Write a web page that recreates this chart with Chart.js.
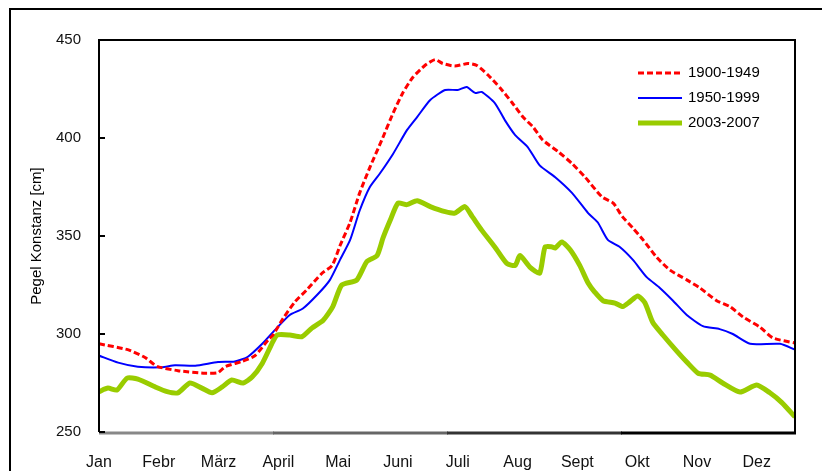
<!DOCTYPE html>
<html>
<head>
<meta charset="utf-8">
<script src="https://cdn.jsdelivr.net/npm/chart.js@4"></script>
<style>
  body { margin: 0; background: #fff; }
  canvas { display: block; }
</style>
</head>
<body>
<canvas id="pegel" width="822" height="471"></canvas>
<script>
// Pegel Konstanz - mittlerer Jahresgang (x in Monaten ab 1. Jan)

const monate = ['Jan', 'Febr', 'März', 'April', 'Mai', 'Juni', 'Juli', 'Aug', 'Sept', 'Okt', 'Nov', 'Dez'];
const yTicks = [250, 300, 350, 400, 450];
const serien = ['1900-1949', '1950-1999', '2003-2007'];

const t1900 = [0, 0.48, 0.77, 0.97, 1.32, 1.77, 1.99, 2.11, 2.39, 2.61, 2.83, 2.91, 3.08, 3.28, 3.49, 3.73, 3.90, 4.03, 4.20, 4.36, 4.53, 4.73, 4.92, 5.08, 5.25, 5.45, 5.62, 5.75, 5.95, 6.17, 6.32, 6.51, 6.71, 6.91, 7.09, 7.26, 7.42, 7.68, 7.91, 8.13, 8.41, 8.60, 8.75, 8.93, 9.10, 9.33, 9.55, 9.83, 10.05, 10.33, 10.55, 10.77, 11.05, 11.27, 11.64];
const v1900 = [295, 292, 288, 283.5, 281.3, 280, 280.3, 283.3, 286, 289, 297, 299.5, 308, 316.5, 323, 331, 335, 345, 357, 372, 385, 399, 412.8, 423, 431, 437, 440, 438, 436.7, 438, 437, 432, 425.5, 418, 410.7, 405.6, 399, 393, 387, 380, 370, 366.8, 360, 354, 348, 339, 332.6, 327.6, 323.5, 317, 314, 308.7, 303.6, 298, 295.4];

const t1950 = [0, 0.32, 0.65, 1.05, 1.27, 1.61, 1.99, 2.27, 2.49, 2.73, 2.94, 3.19, 3.41, 3.65, 3.86, 4.03, 4.20, 4.36, 4.53, 4.70, 4.92, 5.15, 5.32, 5.54, 5.79, 6.00, 6.15, 6.29, 6.40, 6.62, 6.79, 6.96, 7.17, 7.37, 7.63, 7.91, 8.18, 8.34, 8.51, 8.71, 8.93, 9.16, 9.38, 9.60, 9.83, 10.10, 10.38, 10.60, 10.89, 11.39, 11.64];
const v1950 = [289, 285.4, 283.3, 283, 284, 283.8, 285.7, 286, 288.4, 295, 302, 309.7, 313, 320, 327.5, 337.8, 348, 363, 375, 382, 392, 404, 410.7, 419.4, 424.5, 424.5, 426, 423, 423.5, 417.8, 409, 401.5, 395.4, 386, 380, 372, 361.7, 357, 348, 344.4, 337.8, 329, 323.5, 317, 309.7, 304, 302.5, 300, 295, 295, 292];

const t2003 = [0, 0.15, 0.30, 0.47, 0.65, 0.94, 1.14, 1.32, 1.52, 1.72, 1.89, 2.06, 2.22, 2.41, 2.56, 2.73, 2.89, 2.98, 3.19, 3.39, 3.56, 3.75, 3.91, 4.06, 4.31, 4.48, 4.65, 4.75, 4.87, 5.00, 5.15, 5.32, 5.54, 5.79, 5.95, 6.12, 6.24, 6.40, 6.62, 6.82, 6.96, 7.04, 7.21, 7.37, 7.46, 7.58, 7.63, 7.74, 7.88, 8.04, 8.18, 8.29, 8.43, 8.63, 8.76, 8.88, 9.01, 9.13, 9.26, 9.43, 9.67, 9.83, 10.02, 10.22, 10.43, 10.72, 11.00, 11.22, 11.42, 11.64];
const v2003 = [270.6, 272.4, 271.4, 277.5, 277, 273, 270.6, 270, 275, 272.4, 270, 273, 276.5, 275, 278, 285, 295, 299.5, 299.5, 298.6, 303, 307, 314, 325, 327.5, 337, 340, 349, 358, 366.8, 366, 368, 365, 362.4, 361.7, 365, 360, 353, 344.4, 336, 335, 340, 334, 331, 344.4, 344.4, 343.9, 347, 343, 335, 326, 321.4, 317, 315.8, 314, 316.5, 319.4, 316, 306, 299.5, 291, 285.7, 280, 279, 275, 270.4, 274, 270, 265, 257.7];

const punkte = (t, v) => t.map((x, i) => ({ x: x, y: v[i] }));
const FONT = "'Liberation Sans', Arial, sans-serif";

// Rahmen, Achsenlinien und kleine Striche nach innen
const rahmenPlugin = {
    id: 'rahmen',
    afterDraw: function (chart) {
        const ctx = chart.ctx;
        const a = chart.chartArea;
        ctx.save();
        ctx.strokeStyle = '#000';
        ctx.lineWidth = 2;
        ctx.beginPath();
        ctx.moveTo(10, 471);
        ctx.lineTo(10, 9);
        ctx.lineTo(822, 9);
        ctx.stroke();

        ctx.beginPath();
        ctx.moveTo(a.left, a.bottom);
        ctx.lineTo(a.left, a.top);
        ctx.lineTo(a.right, a.top);
        ctx.lineTo(a.right, a.bottom + 1);
        ctx.stroke();

        // untere Achse in Stufen von grau nach schwarz
        const stufen = ['#888', '#666', '#333', '#000'];
        const w = (a.right - a.left) / stufen.length;
        ctx.lineWidth = 3;
        stufen.forEach((c, i) => {
            ctx.strokeStyle = c;
            ctx.beginPath();
            ctx.moveTo(a.left + i * w, a.bottom + 1);
            ctx.lineTo(a.left + (i + 1) * w + 1, a.bottom + 1);
            ctx.stroke();
        });

        const y = chart.scales.y;
        ctx.strokeStyle = '#000';
        ctx.lineWidth = 2;
        yTicks.forEach(v => {
            const py = y.getPixelForValue(v);
            ctx.beginPath();
            ctx.moveTo(a.left, py);
            ctx.lineTo(a.left + 6, py);
            ctx.stroke();
        });
        ctx.restore();
    }
};

const legendePlugin = {
    id: 'legende',
    afterDatasetsDraw: function (chart) {
        const ctx = chart.ctx;
        ctx.save();
        ctx.font = '15px ' + FONT;
        ctx.textBaseline = 'middle';
        ctx.fillStyle = '#000';
        chart.data.datasets.forEach((ds, i) => {
            const y = 73 + i * 25;
            ctx.strokeStyle = ds.borderColor;
            ctx.lineWidth = ds.borderWidth;
            ctx.setLineDash(ds.borderDash || []);
            ctx.beginPath();
            ctx.moveTo(638, y);
            ctx.lineTo(682, y);
            ctx.stroke();
            ctx.setLineDash([]);
            ctx.fillText(ds.label, 688, y);
        });
        ctx.restore();
    }
};

new Chart(document.getElementById('pegel'), {
    type: 'line',
    data: {
        datasets: [
            {
                label: serien[0],
                data: punkte(t1900, v1900),
                borderColor: '#ff0000',
                borderWidth: 3,
                borderDash: [6, 3],
                pointRadius: 0,
                tension: 0.2
            },
            {
                label: serien[1],
                data: punkte(t1950, v1950),
                borderColor: '#0000ff',
                borderWidth: 2,
                pointRadius: 0,
                tension: 0.2
            },
            {
                label: serien[2],
                data: punkte(t2003, v2003),
                borderColor: '#99cc00',
                borderWidth: 5,
                pointRadius: 0,
                tension: 0.2
            }
        ]
    },
    options: {
        responsive: false,
        animation: false,
        layout: { padding: { top: 40, right: 27, left: 0, bottom: 0 } },
        plugins: {
            legend: { display: false },
            tooltip: { enabled: false }
        },
        scales: {
            x: {
                type: 'linear',
                min: 0,
                max: 11.64,
                afterBuildTicks: s => { s.ticks = monate.map((m, i) => ({ value: i })); },
                afterFit: s => { s.height = 39; },
                grid: { display: false },
                border: { display: false },
                ticks: {
                    autoSkip: false,
                    maxRotation: 0,
                    padding: 13,
                    color: '#111',
                    font: { family: FONT, size: 16 },
                    callback: v => monate[v]
                }
            },
            y: {
                min: 250,
                max: 450,
                afterFit: s => { s.width = 99; },
                grid: { display: false },
                border: { display: false },
                ticks: {
                    stepSize: 50,
                    padding: 10,
                    color: '#111',
                    font: { family: FONT, size: 15 }
                },
                title: {
                    display: true,
                    text: 'Pegel Konstanz [cm]',
                    color: '#000',
                    padding: { top: 28 },
                    font: { family: FONT, size: 15 }
                }
            }
        }
    },
    plugins: [rahmenPlugin, legendePlugin]
});
</script>
</body>
</html>
